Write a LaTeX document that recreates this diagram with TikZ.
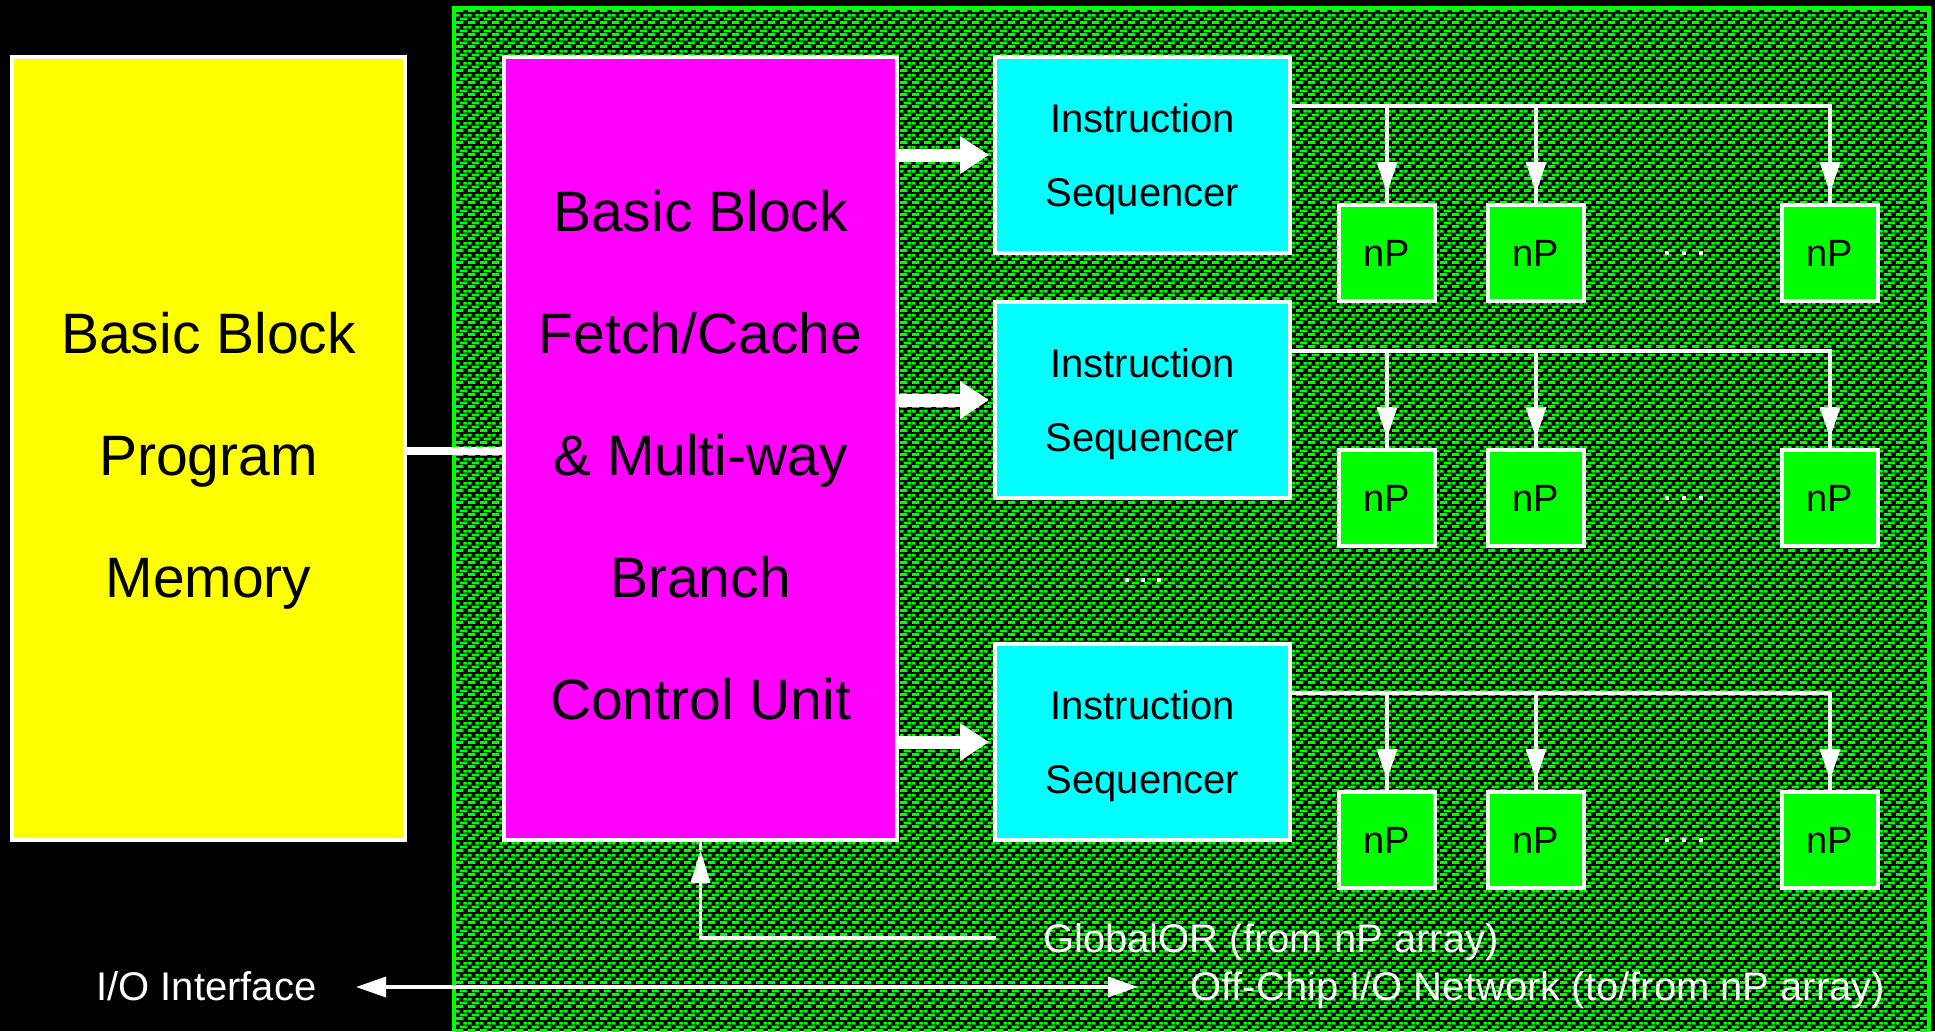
\documentclass[tikz,border=0pt]{standalone}
\usepackage{fontspec}
\setmainfont{Liberation Sans}
\usetikzlibrary{arrows.meta,patterns.meta}

\definecolor{chipgreen}{RGB}{0,255,0}
\definecolor{memyellow}{RGB}{255,255,0}
\definecolor{bbmagenta}{RGB}{255,0,255}
\definecolor{seqcyan}{RGB}{0,255,255}

\newcommand\bigtxt{\fontsize{57}{60}\selectfont}
\newcommand\smalltxt{\fontsize{40}{43}\selectfont}
\newcommand\nptxt{\fontsize{38}{40}\selectfont}

% brick-like weave used as the chip substrate
\tikzdeclarepattern{
  name=chipweave,
  type=uncolored,
  bottom left={(0pt,0pt)},
  top right={(12pt,12pt)},
  tile size={(12pt,12pt)},
  code={
    \fill (0pt,0pt) rectangle (8pt,3pt);
    \fill (4pt,4pt) rectangle (12pt,7pt);
    \fill (8pt,8pt) rectangle (12pt,11pt);
    \fill (0pt,8pt) rectangle (4pt,11pt);
  }
}

\begin{document}
\begin{tikzpicture}[x=1pt,y=-1pt,
  unit/.style={draw=white, line width=4pt, inner sep=0pt, outer sep=0pt},
  bigline/.style={anchor=base, text=black, font=\bigtxt, inner sep=0pt},
  seqline/.style={anchor=base, text=black, font=\smalltxt, inner sep=0pt},
  whitelabel/.style={anchor=base west, text=white, font=\smalltxt, inner sep=0pt},
  pe/.style={unit, fill=chipgreen, minimum width=96pt, minimum height=96pt,
             font=\nptxt, text=black},
  seq/.style={unit, fill=seqcyan, minimum width=295pt, minimum height=196pt},
  wire/.style={draw=white, line width=3.5pt},
  droptip/.style={wire, -{Triangle[width=20pt,length=31pt]}},
  fatarrow/.style={draw=white, line width=13pt, -{Triangle[width=36pt,length=29pt]}}
]
\useasboundingbox (0,0) rectangle (1935,1031);
\fill[black] (0,0) rectangle (1935,1031);

% chip substrate
\fill[pattern=chipweave, pattern color=chipgreen] (456,10) rectangle (1927,1031);
\draw[chipgreen, line width=4pt] (454,1031) -- (454,8) -- (1929,8) -- (1929,1031);

% main blocks
\node[unit, fill=memyellow, minimum width=393pt, minimum height=783pt] (mem) at (208.5,448.5) {};
\node[unit, fill=bbmagenta, minimum width=393pt, minimum height=783pt] (bcu) at (700.5,448.5) {};

\node[bigline] (mem1) at (208.5,353) {Basic Block};
\node[bigline] (mem2) at (208.5,475) {Program};
\node[bigline] (mem3) at (208.5,597) {Memory};

\node[bigline] (bcu1) at (700.5,231) {Basic Block};
\node[bigline] (bcu2) at (700.5,353) {Fetch/Cache};
\node[bigline] (bcu3) at (700.5,475) {\& Multi-way};
\node[bigline] (bcu4) at (700.5,597) {Branch};
\node[bigline] (bcu5) at (700.5,719) {Control Unit};

% instruction sequencers
\node[seq] (is1) at (1142.5,155) {};
\node[seq] (is2) at (1142.5,400) {};
\node[seq] (is3) at (1142.5,742) {};
\foreach \s in {1,2,3}{
  \node[seqline] (is\s a) at ([yshift=23pt]is\s.center) {Instruction};
  \node[seqline] (is\s b) at ([yshift=-51pt]is\s.center) {Sequencer};
}

% processing elements
\foreach \r/\y in {1/253,2/498,3/840}{
  \node[pe] (p\r1) at (1387,\y) {nP};
  \node[pe] (p\r2) at (1536,\y) {nP};
  \node[pe] (p\r3) at (1830,\y) {nP};
  \foreach \dx in {1667,1684,1701}
    \fill[white] (\dx-2,\y-2) rectangle (\dx+2,\y+2);
}
\foreach \dx in {1127,1143,1159}
  \fill[white] (\dx-2,578) rectangle (\dx+2,582);

% memory to branch unit
\draw[white, line width=8pt] ([yshift=-2.5pt]mem.east) -- ([yshift=-2.5pt]mem.east -| bcu.west);

% branch unit to sequencers
\foreach \s in {1,2,3}
  \draw[fatarrow] (bcu.east |- is\s.west) -- ([xshift=-6pt]is\s.west);

% sequencer broadcast buses
\foreach \r in {1,2,3}{
  \coordinate (bus\r) at ([yshift=-49pt]is\r.north east);
  \draw[wire] (bus\r) -- (bus\r -| p\r3.north) -- (p\r3.north);
  \foreach \c in {1,2}
    \draw[wire] (bus\r -| p\r\c.north) -- (p\r\c.north);
  \foreach \c in {1,2,3}
    \draw[droptip] ([yshift=50pt]p\r\c.north) -- ([yshift=12pt]p\r\c.north);
}

% GlobalOR feedback
\coordinate (gor) at (996,938);
\draw[wire] ([yshift=-10pt]bcu.south) -- (bcu.south);
\draw[wire, -{Triangle[width=19pt,length=33pt]}] (gor) -| ([yshift=-10pt]bcu.south);
\node[whitelabel] (gortxt) at (1043,952) {GlobalOR (from nP array)};

% off-chip I/O
\coordinate (ioL) at (356,987);
\coordinate (ioR) at (1138,987);
\draw[wire, {Triangle[width=20pt,length=30pt]}-{Triangle[width=20pt,length=30pt]}] (ioL) -- (ioR);
\node[whitelabel] (iotxt) at (96,1000) {I/O Interface};
\node[whitelabel] (nettxt) at (1190,1000) {Off-Chip I/O Network (to/from nP array)};
\end{tikzpicture}
\end{document}
